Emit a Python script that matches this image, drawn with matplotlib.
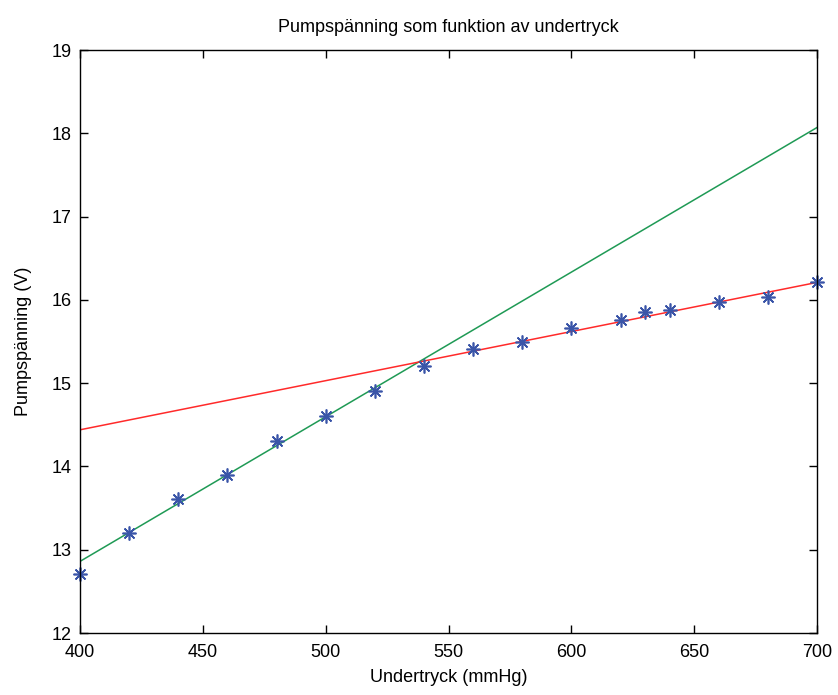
import matplotlib
matplotlib.use('Agg')
import matplotlib.pyplot as plt
import numpy as np

# measured points
tryck = [400, 420, 440, 460, 480, 500, 520, 540, 560, 580, 600, 620, 630, 640, 660, 680, 700]
spanning = [12.71, 13.20, 13.61, 13.90, 14.31, 14.61, 14.90, 15.21, 15.41, 15.49,
            15.66, 15.76, 15.85, 15.88, 15.97, 16.03, 16.21]

# fitted lines, read as end values at 400 and 700 mmHg
fit_x = [400, 700]
green_fit = [12.86, 18.07]
red_fit = [14.44, 16.21]

plt.rcParams['font.family'] = ['Liberation Sans', 'DejaVu Sans']

fig = plt.figure(figsize=(8.38, 6.95), dpi=100)
ax = fig.add_axes([0.0955, 0.0892, 0.8795, 0.8388])

ax.plot(fit_x, green_fit, color='#1f9a55', linewidth=1.1)
ax.plot(fit_x, red_fit, color='#ff2a2a', linewidth=1.1)
ax.plot(tryck, spanning, linestyle='none', marker=(8, 2, 0), markersize=10,
        markeredgewidth=1.2, color='#3a55a8', clip_on=False)

ax.set_xlim(400, 700)
ax.set_ylim(12, 19)
ax.set_xticks(np.arange(400, 701, 50))
ax.set_yticks(np.arange(12, 20, 1))
ax.tick_params(direction='in', top=True, right=True, length=6, width=1,
               labelsize=13)
ax.tick_params(axis='x', pad=8)
ax.tick_params(axis='y', pad=6)
for s in ax.spines.values():
    s.set_linewidth(1)

ax.set_title('Pumpspänning som funktion av undertryck', fontsize=13, pad=13)
ax.set_xlabel('Undertryck (mmHg)', fontsize=13, labelpad=6)
ax.set_ylabel('Pumpspänning (V)', fontsize=13, labelpad=14)

fig.savefig('out.png', dpi=100)
